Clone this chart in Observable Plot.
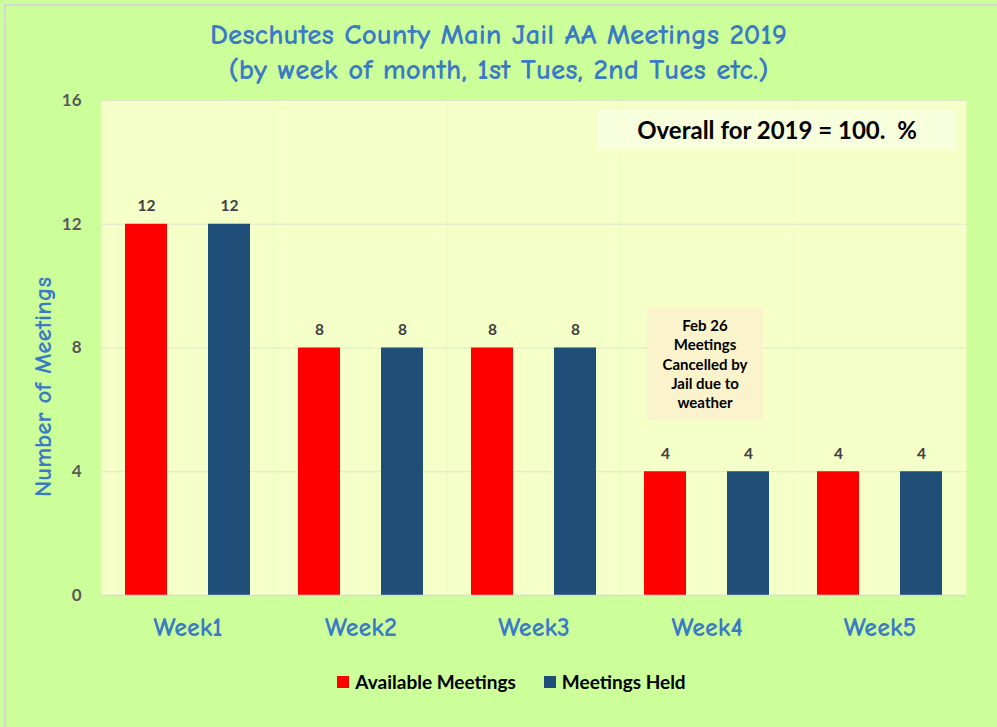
<!DOCTYPE html>
<html>
<head>
<meta charset="utf-8">
<script src="https://cdn.jsdelivr.net/npm/d3@7"></script>
<script src="https://cdn.jsdelivr.net/npm/@observablehq/plot@0.6"></script>
<style>
  html, body { margin: 0; padding: 0; background: #ffffff; }
  #wrap { position: relative; width: 997px; height: 727px; background: #ccff99; overflow: hidden; }
  #border { position: absolute; left: 4px; top: 4px; right: 0; bottom: 0; border-left: 2px solid #d6d6d6; border-top: 2px solid #d6d6d6; }
  .comic { font-family: "Comic Sans MS", "Comic Neue", "DejaVu Sans", sans-serif; color: #3b7ac4; }
  #title { position: absolute; left: 0; width: 997px; top: 17px; text-align: center; font-size: 29px; line-height: 35px; font-weight: bold; }
  #ytitle { position: absolute; left: 42px; top: 387px; transform: translate(-50%, -50%) rotate(-90deg); white-space: nowrap; font-size: 25px; font-weight: bold; }
  #chart { position: absolute; left: 0; top: 90px; }
  .box { position: absolute; font-family: Lato, "Open Sans", sans-serif; font-weight: bold; color: #000; text-align: center; }
  #overall { left: 598px; top: 109px; width: 358px; height: 41px; line-height: 41px; background: #f8ffdc; font-size: 24px; }
  #feb { left: 647px; top: 308px; width: 116px; height: 112px; background: #fbf3cc; font-size: 15px; line-height: 19.3px; padding-top: 8px; box-sizing: border-box; }
  #legend { position: absolute; left: 13px; width: 997px; top: 670px; display: flex; justify-content: center; gap: 28px; font-family: Lato, "Open Sans", sans-serif; font-weight: bold; font-size: 19px; color: #000; }
  .item { display: flex; align-items: center; gap: 6px; }
  .sw { width: 12px; height: 12px; display: inline-block; }
</style>
</head>
<body>
<div id="wrap">
  <div id="border"></div>
  <div id="title" class="comic">Deschutes County Main Jail AA Meetings 2019<br>(by week of month, 1st Tues, 2nd Tues etc.)</div>
  <div id="ytitle" class="comic">Number of Meetings</div>
  <div id="chart"></div>
  <div id="overall" class="box">Overall for 2019 = 100.&nbsp; %</div>
  <div id="feb" class="box">Feb 26<br>Meetings<br>Cancelled by<br>Jail due to<br>weather</div>
  <div id="legend"></div>
</div>
<script>
const weeks = ["Week1", "Week2", "Week3", "Week4", "Week5"];
const seriesNames = ["Available Meetings", "Meetings Held"];
const available = [12, 8, 8, 4, 4];
const held = [12, 8, 8, 4, 4];
const yTicks = [0, 4, 8, 12, 16];
const colors = ["#ff0000", "#1f4e79"];

const data = weeks.flatMap((w, i) => [
  {week: w, series: seriesNames[0], value: available[i]},
  {week: w, series: seriesNames[1], value: held[i]}
]);

const chart = Plot.plot({
  width: 997,
  height: 565,
  marginTop: 10,
  marginBottom: 60,
  marginLeft: 100,
  marginRight: 30,
  style: {background: "transparent", fontFamily: "Lato, 'Open Sans', sans-serif", overflow: "visible"},
  fx: {domain: weeks, padding: 0, label: null},
  x: {domain: seriesNames, paddingInner: 0.494, paddingOuter: 0.289, axis: null},
  y: {domain: [0, 16], label: null, axis: null},
  color: {domain: seriesNames, range: colors},
  marks: [
    Plot.frame({fill: "#f5ffc8", stroke: null}),
    Plot.gridY(yTicks, {stroke: "#dfe6c6", strokeOpacity: 1, strokeWidth: 1}),
    Plot.barY(data, {fx: "week", x: "series", y: "value", fill: "series"}),
    Plot.ruleY([0], {stroke: "#d9d9d9", strokeWidth: 1.5}),
    Plot.text(data, {fx: "week", x: "series", y: "value", text: d => String(d.value), dy: -18, fontSize: 15.5, fontWeight: "bold", fill: "#404040"}),
    Plot.axisY(yTicks, {tickSize: 0, tickPadding: 20, fontSize: 17, fontWeight: "bold", fill: "#595959", label: null}),
    Plot.axisFx({anchor: "bottom", tickSize: 0, tickPadding: 22, fontSize: 26, fontWeight: "bold", fill: "#3b7ac4", fontFamily: "'Comic Sans MS', 'Comic Neue', 'DejaVu Sans', sans-serif", label: null})
  ]
});
document.getElementById("chart").appendChild(chart);

const legend = document.getElementById("legend");
seriesNames.forEach((s, i) => {
  const it = document.createElement("div");
  it.className = "item";
  const sw = document.createElement("span");
  sw.className = "sw";
  sw.style.background = colors[i];
  const lab = document.createElement("span");
  lab.textContent = s;
  it.appendChild(sw);
  it.appendChild(lab);
  legend.appendChild(it);
});
</script>
</body>
</html>
